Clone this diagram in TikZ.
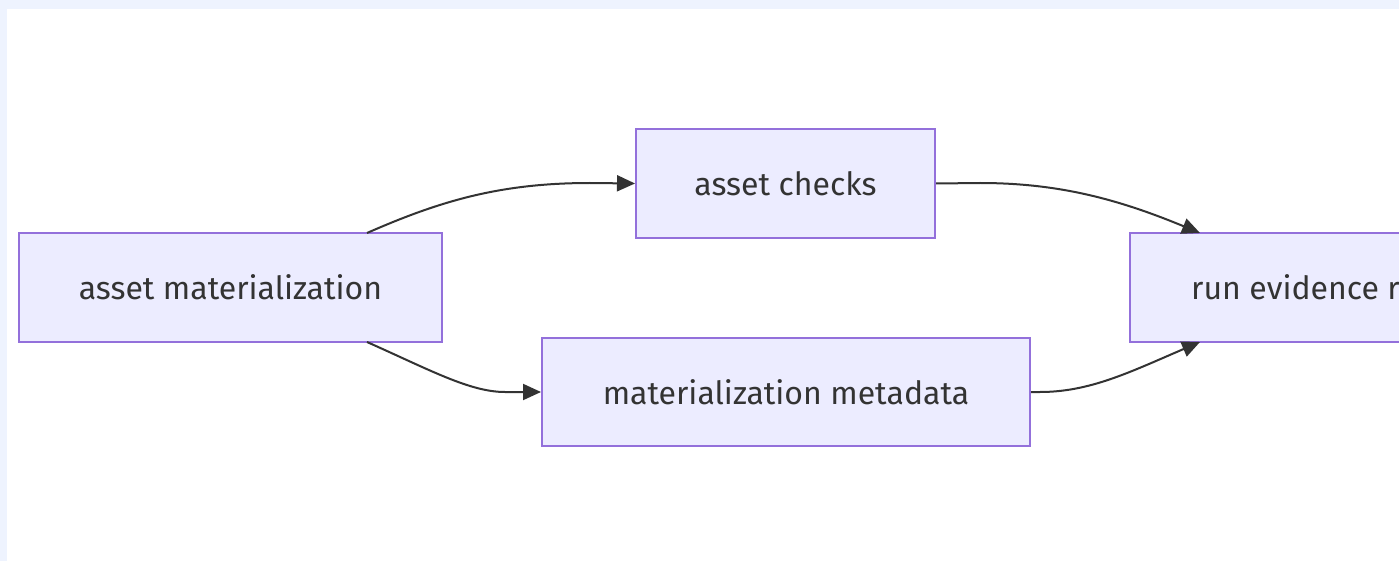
\documentclass[tikz,border=0pt]{standalone}
\usepackage{fontspec}
\setmainfont{Fira Sans}
\usetikzlibrary{arrows.meta}
\definecolor{bgblue}{HTML}{EEF3FE}
\definecolor{boxfill}{HTML}{ECECFF}
\definecolor{boxline}{HTML}{9370DB}
\definecolor{ink}{HTML}{333333}
\tikzset{
  flowbox/.style={draw=boxline, fill=boxfill, line width=2pt, rectangle, inner sep=0pt},
  flowtext/.style={text=ink, font=\fontsize{32}{36}\selectfont, inner sep=0pt},
  flowedge/.style={draw=ink, line width=2pt, -{Triangle[length=18pt,width=16pt]}},
}
\begin{document}
\begin{tikzpicture}[x=1pt,y=-1pt]
\useasboundingbox (0,0) rectangle (1399,561);
\fill[bgblue] (0,0) rectangle (1399,561);
\fill[white] (7,9) rectangle (1399,561);
\begin{scope}
\clip (0,0) rectangle (1399,561);
% boxes
\node[flowbox, minimum width=423pt, minimum height=109pt] (am) at (230.5,287.5) {};
\node[flowtext] at (am.center) {asset materialization};
\node[flowbox, minimum width=299pt, minimum height=109pt] (ac) at (785.5,183.5) {};
\node[flowtext] at (ac.center) {asset checks};
\node[flowbox, minimum width=488pt, minimum height=108pt] (mm) at (786,392) {};
\node[flowtext] at (mm.center) {materialization metadata};
\node[flowbox, minimum width=300pt, minimum height=109pt] (re) at (1280,287.5) {};
\node[flowtext, anchor=west] at (1191,287.5) {run evidence r};
% anchor coordinates
\coordinate (am-top) at (367,233);
\coordinate (am-bot) at (367,342);
\coordinate (re-top) at (1200,233);
\coordinate (re-bot) at (1200,342);
% edges
\draw[flowedge] (am-top) .. controls (440,201) and (500,183) .. (590,183) -- (ac.west);
\draw[flowedge] (am-bot) .. controls (430,370) and (470,392) .. (505,392) -- (mm.west);
\draw[flowedge] (ac.east) -- (980,183) .. controls (1060,183) and (1120,200) .. (re-top);
\draw[flowedge] (mm.east) -- (1040,392) .. controls (1090,392) and (1130,372) .. (re-bot);
\end{scope}
\end{tikzpicture}
\end{document}
